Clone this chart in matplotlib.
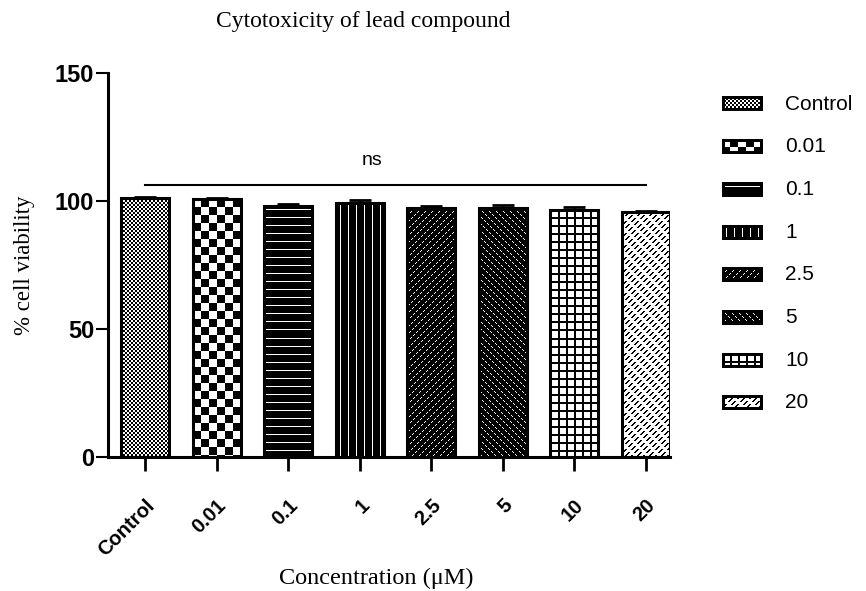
import numpy as np
import matplotlib
matplotlib.use("Agg")
import matplotlib.pyplot as plt

plt.rcParams["font.family"] = ["Liberation Sans", "DejaVu Sans"]

# mean % viability and SEM per treatment group (µM)
groups = ["Control", "0.01", "0.1", "1", "2.5", "5", "10", "20"]
viability = [101.0, 100.7, 98.2, 99.1, 97.2, 97.1, 96.5, 95.7]
sem = [0.7, 0.6, 0.6, 1.3, 0.9, 1.5, 1.0, 0.4]
ns_level = 106.3
ns_text = "ns"


# --- pixel fill patterns (1 = white, 0 = black) -----------------------------
def fine_checker(i, j):
    return ((i // 2 + j // 2) % 2 == 0)


def big_checker(i, j):
    return ((i // 8 + j // 8) % 2 == 0)


def h_lines(i, j):
    return (i % 8 == 4)


def v_lines(i, j):
    return (j % 8 == 4)


def diag_up(i, j):
    return ((i + j) % 7 == 0) & (i % 3 != 2)


def diag_down(i, j):
    return ((j - i) % 7 == 0) & (i % 3 != 2)


def grid(i, j):
    return ~((i % 8 < 2) | (j % 8 < 2))


def dashed_diag(i, j):
    return ~(((i + j) % 6 < 2) & ((j - i) % 12 < 8))


patterns = [fine_checker, big_checker, h_lines, v_lines,
            diag_up, diag_down, grid, dashed_diag]


def texture(fn, h, w, border=0):
    i, j = np.mgrid[0:h, 0:w]
    t = fn(i, j).astype(float)
    if border:
        t[:border, :] = 0
        t[-border:, :] = 0
        t[:, :border] = 0
        t[:, -border:] = 0
    return t


fig = plt.figure(figsize=(8.66, 5.91), dpi=100)
ax = fig.add_axes([108 / 866, 134 / 591, 562 / 866, 384 / 591])

x = np.arange(len(groups))
width = 0.67
ax.set_xlim(-0.52, 7.34)
ax.set_ylim(0, 150)

# textured fills sized to each bar in pixels
for xi, val, fn in zip(x, viability, patterns):
    (px0, py0), (px1, py1) = ax.transData.transform(
        [(xi - width / 2, 0), (xi + width / 2, val)])
    tex = texture(fn, int(round(py1 - py0)), int(round(px1 - px0)))
    ax.imshow(tex, cmap="gray", vmin=0, vmax=1, interpolation="nearest",
              extent=(xi - width / 2, xi + width / 2, 0, val),
              aspect="auto", zorder=1)

ax.bar(x, viability, width=width, facecolor="none", edgecolor="black",
       linewidth=2.2, zorder=2)
ax.errorbar(x, viability, yerr=[np.zeros(len(sem)), sem], fmt="none",
            ecolor="black", elinewidth=2, capsize=8, capthick=2, zorder=3)

# significance bar across all groups
ax.plot([x[0], x[-1]], [ns_level, ns_level], color="black", lw=1.5)
ax.text(3.17, ns_level + 9.5, ns_text, ha="center", va="center", fontsize=14)

ax.set_xlim(-0.52, 7.34)
ax.set_ylim(0, 150)
ax.set_yticks([0, 50, 100, 150])
ax.tick_params(axis="y", length=9, width=1.5, pad=1, labelsize=17)
for lab in ax.get_yticklabels():
    lab.set_fontweight("bold")
ax.set_xticks(x)
ax.set_xticklabels(groups, rotation=45, ha="right", va="top",
                   rotation_mode="anchor", fontweight="bold", fontsize=14.5)
ax.tick_params(axis="x", length=10, width=2, pad=18)

for s in ["top", "right"]:
    ax.spines[s].set_visible(False)
for s in ["left", "bottom"]:
    ax.spines[s].set_linewidth(2.2)

ax.set_ylabel("% cell viability", family="Liberation Serif", fontsize=16.5,
              labelpad=14)
fig.text(363 / 866, 1 - 22 / 591, "Cytotoxicity of lead compound",
         family="Liberation Serif", fontsize=17, ha="center", va="center")
fig.text(376 / 866, 1 - 578 / 591, "Concentration (\u03bcM)",
         family="Liberation Serif", fontsize=17.5, ha="center", va="center")

# legend drawn in figure pixel space
lax = fig.add_axes([0, 0, 1, 1], facecolor="none")
sw_w, sw_h = 41, 15
for k, (name, fn) in enumerate(zip(groups, patterns)):
    yc = 104 + k * 42.7
    tex = texture(fn, sw_h, sw_w, border=3)
    lax.imshow(tex, cmap="gray", vmin=0, vmax=1, interpolation="nearest",
               extent=(722, 722 + sw_w, yc + sw_h / 2, yc - sw_h / 2),
               aspect="auto")
    lax.text(785, yc, name, ha="left", va="center", fontsize=15)
lax.set_xlim(0, 866)
lax.set_ylim(591, 0)
lax.axis("off")

fig.savefig("out.png", dpi=100)
